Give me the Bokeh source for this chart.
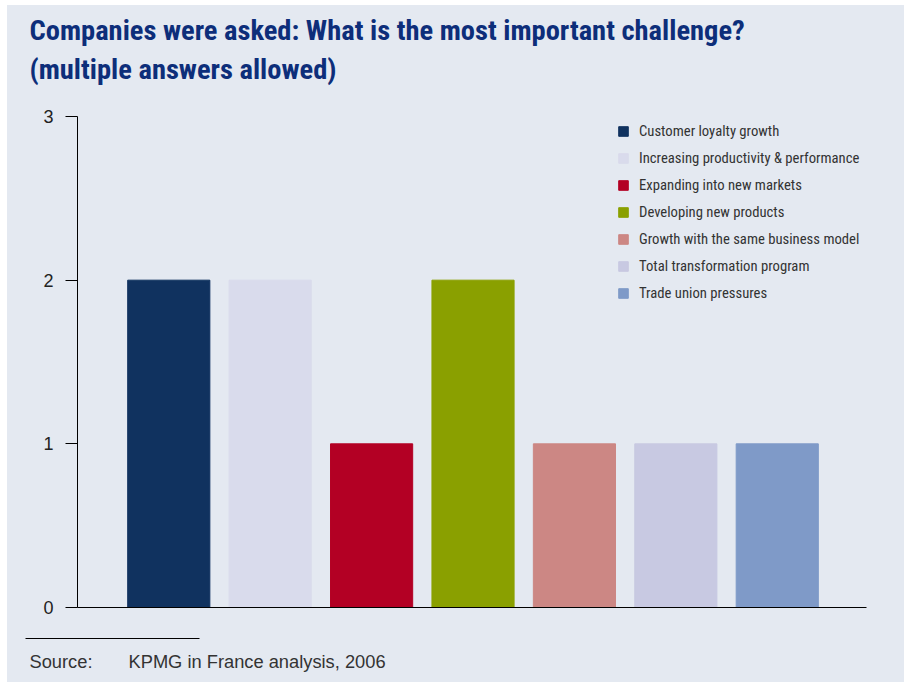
from bokeh.plotting import figure
from bokeh.layouts import column
from bokeh.models import ColumnDataSource, Label, Range1d, FixedTicker
from bokeh.embed import file_html
from bokeh.resources import INLINE

categories = [
    "Customer loyalty growth",
    "Increasing productivity & performance",
    "Expanding into new markets",
    "Developing new products",
    "Growth with the same business model",
    "Total transformation program",
    "Trade union pressures",
]
values = [2, 2, 1, 2, 1, 1, 1]
colors = ["#10325F", "#D9DBEC", "#B30024", "#8AA000", "#CC8784", "#C8C9E2", "#7F9AC8"]
y_ticks = [0, 1, 2, 3]
title_lines = ["Companies were asked: What is the most important challenge?",
               "(multiple answers allowed)"]
source_label = "Source:"
source_text = "KPMG in France analysis, 2006"

BG = "#E4E9F1"
NARROW = "Liberation Sans Narrow, Roboto Condensed, Arial Narrow, sans-serif"
W = 897


def panel(height):
    f = figure(width=W, height=height, output_backend="svg", toolbar_location=None,
               x_axis_type=None, y_axis_type=None,
               x_range=Range1d(0, W), y_range=Range1d(0, height),
               min_border=0, frame_align=False)
    f.background_fill_color = BG
    f.border_fill_color = BG
    f.outline_line_color = None
    f.grid.visible = False
    f.styles = {"background-color": BG}
    return f


# ---------- header ----------
head = panel(100)
title_color = "#0D2E7A"
head.add_layout(Label(x=22, y=75, x_units="screen", y_units="screen",
                      text=title_lines[0], text_font=NARROW, text_font_style="bold",
                      text_font_size="28.5px", text_color=title_color, text_baseline="middle"))
head.add_layout(Label(x=22, y=36, x_units="screen", y_units="screen",
                      text=title_lines[1], text_font=NARROW, text_font_style="bold",
                      text_font_size="28.5px", text_color=title_color, text_baseline="middle"))

# ---------- main chart ----------
xs = list(range(len(categories)))
src = ColumnDataSource(dict(x=xs, top=values, color=colors, label=categories))

p = figure(width=W, height=515, output_backend="svg", toolbar_location=None,
           x_range=Range1d(-0.9, 6.88), y_range=Range1d(0, 3),
           min_border_left=70, min_border_right=38, min_border_top=11, min_border_bottom=13,
           frame_align=False)
p.background_fill_color = BG
p.border_fill_color = BG
p.outline_line_color = None
p.grid.visible = False
p.styles = {"background-color": BG}

p.vbar(x="x", top="top", width=0.81, bottom=0, color="color", source=src, legend_field="label")

p.xaxis.ticker = FixedTicker(ticks=[])
p.xaxis.major_tick_line_color = None
p.xaxis.minor_tick_line_color = None
p.xaxis.major_tick_out = 0
p.xaxis.major_label_standoff = 0
p.xaxis.major_label_text_font_size = "0px"
p.xaxis.axis_line_color = "#000000"

p.yaxis.ticker = FixedTicker(ticks=y_ticks)
p.yaxis.axis_line_color = "#000000"
p.yaxis.major_tick_line_color = "#000000"
p.yaxis.major_tick_out = 12
p.yaxis.major_tick_in = 0
p.yaxis.minor_tick_line_color = None
p.yaxis.major_label_text_font = "Liberation Sans"
p.yaxis.major_label_text_font_size = "18px"
p.yaxis.major_label_text_color = "#222222"
p.yaxis.major_label_standoff = 12

lg = p.legend[0]
lg.background_fill_alpha = 0
lg.border_line_color = None
lg.label_text_font = NARROW
lg.label_text_font_size = "14.7px"
lg.label_text_color = "#333333"
lg.glyph_width = 12
lg.glyph_height = 12
lg.label_height = 17
lg.spacing = 9
lg.padding = 0
lg.margin = 0
lg.label_standoff = 10
lg.location = (540, 305)

# ---------- footer ----------
foot = panel(62)
foot.segment(x0=[18], y0=[44], x1=[192], y1=[44], line_color="#000000", line_width=1)
foot.add_layout(Label(x=22, y=21, x_units="screen", y_units="screen",
                      text=source_label, text_font="Liberation Sans", text_font_size="18.3px",
                      text_color="#333333", text_baseline="middle"))
foot.add_layout(Label(x=121, y=21, x_units="screen", y_units="screen",
                      text=source_text, text_font="Liberation Sans", text_font_size="18.3px",
                      text_color="#333333", text_baseline="middle"))

layout = column(head, p, foot, spacing=0)
layout.margin = (5, 0, 0, 7)
layout.styles = {"background-color": BG}

open("out.html", "w").write(file_html(layout, INLINE))
